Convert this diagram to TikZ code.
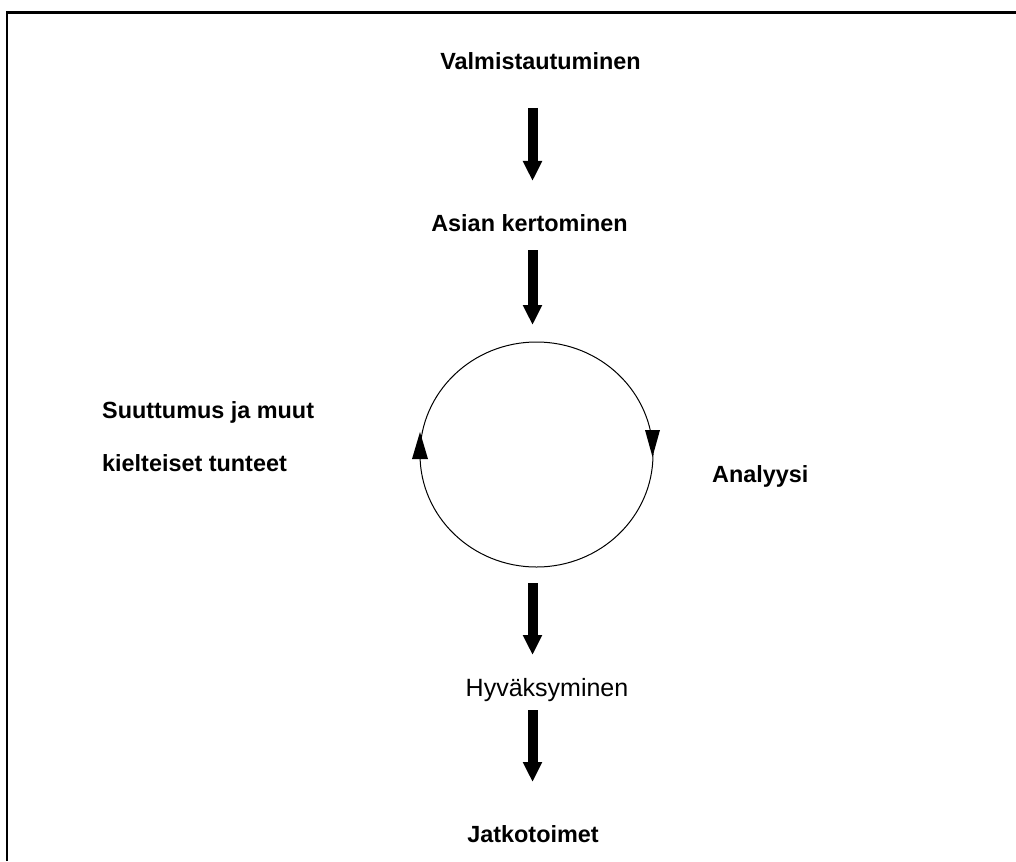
\documentclass[tikz,border=0pt]{standalone}
\usepackage{fontspec}
\setmainfont{Liberation Sans}
\usetikzlibrary{arrows.meta}
\begin{document}
\begin{tikzpicture}[x=1pt,y=-1pt,
  lbl/.style={inner sep=0pt,font=\fontsize{23.4}{28}\selectfont\bfseries},
  lblr/.style={inner sep=0pt,font=\fontsize{25}{30}\selectfont},
  bigarrow/.style={line width=10pt,-{Triangle[width=18pt,length=20pt]}},
  frame/.style={line width=2.5pt},
  cyc/.style={line width=1pt},
  cychead/.style={fill=black}
]
\useasboundingbox (0,0) rectangle (1016,861);
\draw[frame] (7,861) -- (7,12.5) -- (1016,12.5);

\node[lbl,anchor=base] (valm) at (540.5,69.3) {Valmistautuminen};
\node[lbl,anchor=base] (asia) at (529.5,231.7) {Asian kertominen};
\node[lblr,anchor=base] (hyva) at (547,696.7) {Hyväksyminen};
\node[lbl,anchor=base] (jatko) at (533,842.7) {Jatkotoimet};
\node[lbl,anchor=base west] (suut) at (102,418.3) {Suuttumus ja muut};
\node[lbl,anchor=base west] (kiel) at (102,471.7) {kielteiset tunteet};
\node[lbl,anchor=base west] (anal) at (712,482.7) {Analyysi};

\coordinate (a1s) at (532.5,108);
\coordinate (a1e) at (532.5,181);
\coordinate (a2s) at (532.5,250);
\coordinate (a2e) at (532.5,325);
\coordinate (a3s) at (532.5,583);
\coordinate (a3e) at (532.5,655);
\coordinate (a4s) at (532.5,710);
\coordinate (a4e) at (532.5,782);
\draw[bigarrow] (a1s) -- (a1e);
\draw[bigarrow] (a2s) -- (a2e);
\draw[bigarrow] (a3s) -- (a3e);
\draw[bigarrow] (a4s) -- (a4e);

\coordinate (cc) at (536.5,454.5);
\draw[cyc] (cc) ellipse [x radius=116.5, y radius=112.5];
\fill[cychead] (645,430) -- (660,430) -- (652.5,457) -- cycle;
\fill[cychead] (412,459) -- (428,459) -- (420,432) -- cycle;
\end{tikzpicture}
\end{document}
